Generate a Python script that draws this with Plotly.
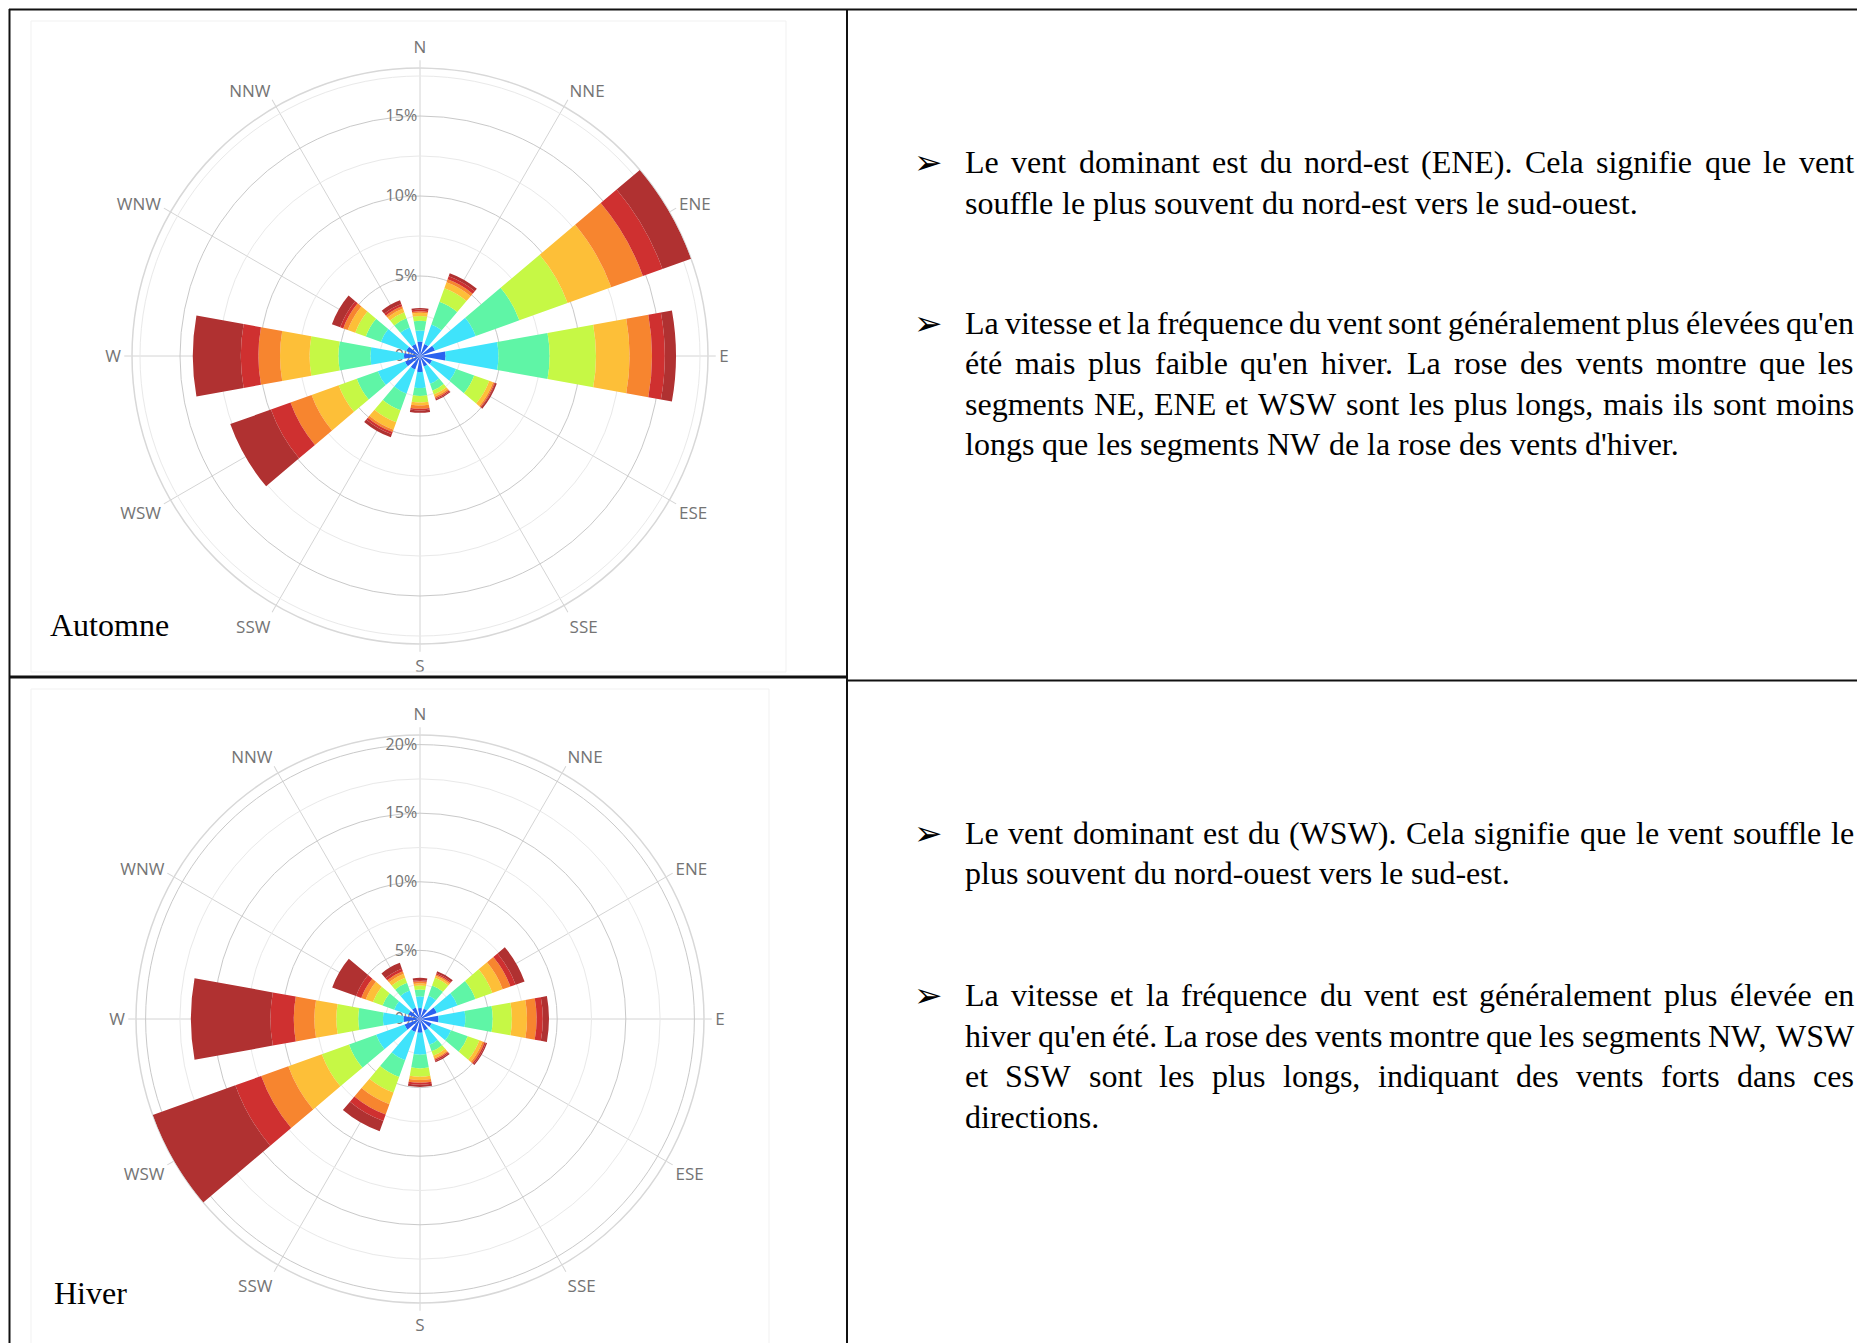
import plotly.graph_objects as go

# ---------------- data ----------------
directions = ["N", "NNE", "ENE", "E", "ESE", "SSE", "S", "SSW", "WSW", "W", "WNW", "NNW"]
angles = [0, 30, 60, 90, 120, 150, 180, 210, 240, 270, 300, 330]
radial_ticks_aut = [0, 5, 10, 15]
radial_ticks_hiv = [0, 5, 10, 15, 20]

# frequency (%) per wind-speed class (innermost class first), one value per direction
aut_c1 = [0.9, 0.8, 1.0, 1.6, 0.8, 0.7, 1.0, 0.9, 1.0, 1.0, 0.9, 0.8]
aut_c2 = [0.7, 1.3, 2.7, 3.3, 1.6, 1.15, 1.0, 1.6, 1.8, 2.1, 1.7, 1.1]
aut_c3 = [0.6, 1.5, 2.9, 3.2, 1.2, 0.45, 0.5, 1.1, 1.4, 2.0, 1.0, 0.6]
aut_c4 = [0.3, 0.9, 3.2, 2.9, 1.0, 0.25, 0.4, 0.8, 1.2, 1.8, 0.7, 0.4]
aut_c5 = [0.2, 0.4, 2.9, 2.1, 0.25, 0.15, 0.2, 0.5, 1.8, 1.85, 0.5, 0.25]
aut_c6 = [0.1, 0.2, 2.1, 1.4, 0.1, 0.1, 0.2, 0.15, 1.4, 1.35, 0.3, 0.15]
aut_c7 = [0.1, 0.2, 1.3, 0.8, 0.05, 0.08, 0.1, 0.15, 1.3, 1.1, 0.2, 0.15]
aut_c8 = [0.1, 0.2, 1.9, 0.7, 0.1, 0.07, 0.15, 0.2, 2.7, 3.0, 0.55, 0.25]

hiv_c1 = [0.8, 0.8, 1.3, 1.35, 0.9, 0.9, 1.0, 1.0, 1.2, 1.2, 0.9, 0.9]
hiv_c2 = [0.85, 1.0, 1.6, 1.95, 1.5, 1.1, 1.6, 2.2, 2.2, 1.5, 1.1, 1.3]
hiv_c3 = [0.5, 0.8, 1.4, 2.0, 1.3, 0.5, 1.0, 1.3, 2.1, 1.8, 0.9, 0.6]
hiv_c4 = [0.3, 0.6, 1.3, 1.4, 0.9, 0.35, 0.6, 1.2, 2.1, 1.6, 0.75, 0.4]
hiv_c5 = [0.15, 0.15, 0.8, 1.1, 0.25, 0.2, 0.25, 0.9, 2.6, 1.6, 0.55, 0.3]
hiv_c6 = [0.15, 0.1, 0.6, 0.7, 0.15, 0.1, 0.2, 0.8, 2.1, 1.5, 0.35, 0.2]
hiv_c7 = [0.1, 0.1, 0.4, 0.45, 0.1, 0.1, 0.15, 0.5, 2.0, 1.7, 0.4, 0.2]
hiv_c8 = [0.15, 0.15, 0.7, 0.45, 0.1, 0.1, 0.15, 0.8, 6.4, 5.8, 1.85, 0.45]

class_colors = ["#2b62ef", "#3fe3fb", "#5ff5a6", "#c6f845", "#fdbf38", "#f7852f", "#cf3030", "#b03131"]

para1 = ["Le vent dominant est du nord-est (ENE). Cela signifie que le vent",
         "souffle le plus souvent du nord-est vers le sud-ouest."]
para2 = ["La vitesse et la fréquence du vent sont généralement plus élevées qu'en",
         "été mais plus faible qu'en hiver. La rose des vents montre que les",
         "segments NE, ENE et WSW sont les plus longs, mais ils sont moins",
         "longs que les segments NW de la rose des vents d'hiver."]
para3 = ["Le vent dominant est du (WSW). Cela signifie que le vent souffle le",
         "plus souvent du nord-ouest vers le sud-est."]
para4 = ["La vitesse et la fréquence du vent est généralement plus élevée en",
         "hiver qu'en été. La rose des vents montre que les segments NW, WSW",
         "et SSW sont les plus longs, indiquant des vents forts dans ces",
         "directions."]

# ---------------- layout helpers ----------------
W, H = 1857, 1343


def px(x):
    return x / W


def py(y):
    return 1 - y / H


fig = go.Figure()

aut = [aut_c1, aut_c2, aut_c3, aut_c4, aut_c5, aut_c6, aut_c7, aut_c8]
hiv = [hiv_c1, hiv_c2, hiv_c3, hiv_c4, hiv_c5, hiv_c6, hiv_c7, hiv_c8]

# invisible anchor traces so the grid-only polar subplots get drawn
for sub in ["polar", "polar3"]:
    fig.add_trace(go.Scatterpolar(r=[0], theta=[0], subplot=sub, mode="markers",
                                  marker=dict(size=1, opacity=0), showlegend=False,
                                  hoverinfo="skip"))

for data, sub in [(aut, "polar2"), (hiv, "polar4")]:
    for vals, col in zip(data, class_colors):
        fig.add_trace(go.Barpolar(r=vals, theta=angles, width=20.5, subplot=sub,
                                  marker=dict(color=col, line=dict(width=0)),
                                  showlegend=False, hoverinfo="skip"))

aut_max = max(sum(v[i] for v in aut) for i in range(len(angles)))
hiv_max = max(sum(v[i] for v in hiv) for i in range(len(angles)))

label_font = dict(family="Open Sans", size=16, color="#747474")


def grid_polar(cx, cy, R, rmax, ticks):
    dom = dict(x=[px(cx - R), px(cx + R)], y=[py(cy + R), py(cy - R)])
    return dict(
        domain=dom, bgcolor="white",
        angularaxis=dict(rotation=90, direction="clockwise", tickmode="array",
                         tickvals=angles, ticktext=directions, showgrid=True,
                         gridcolor="#d4d4d4", gridwidth=1, ticks="outside", ticklen=7,
                         tickcolor="#d4d4d4", showline=True, linecolor="#d8d8d8",
                         linewidth=1.5, tickfont=dict(family="Open Sans", size=17, color="#747474")),
        radialaxis=dict(range=[0, rmax], tickmode="array", tickvals=ticks,
                        ticktext=[f"{t}%" for t in ticks], side="counterclockwise",
                        tickangle=90, showline=False, ticks="", gridcolor="#c9c9c9",
                        gridwidth=1.3, angle=90, tickfont=label_font),
    )


def bar_polar(cx, cy, R, rmax):
    dom = dict(x=[px(cx - R), px(cx + R)], y=[py(cy + R), py(cy - R)])
    minor = [m + 2.5 for m in range(0, int(rmax) + 1, 5) if m + 2.5 < rmax]
    return dict(
        domain=dom, bgcolor="rgba(0,0,0,0)", barmode="stack",
        angularaxis=dict(rotation=90, direction="clockwise", showgrid=False,
                         showticklabels=False, ticks="", showline=False),
        radialaxis=dict(range=[0, rmax], tickmode="array", tickvals=minor,
                        showticklabels=False, showline=False, ticks="",
                        gridcolor="#e9e9e9", gridwidth=1, angle=90),
    )


fig.update_layout(
    polar=grid_polar(420, 356, 288, aut_max, radial_ticks_aut),
    polar2=bar_polar(420, 356, 288, aut_max),
    polar3=grid_polar(420, 1019, 284, hiv_max, radial_ticks_hiv),
    polar4=bar_polar(420, 1019, 284, hiv_max),
)

# ---------------- table lines & frames ----------------
shapes = []


def line(x0, y0, x1, y1, w=2, c="#111111"):
    shapes.append(dict(type="line", xref="paper", yref="paper", x0=px(x0), y0=py(y0),
                       x1=px(x1), y1=py(y1), line=dict(color=c, width=w)))


line(9, 9.5, W, 9.5)
line(9.5, 9, 9.5, H)
line(847, 9, 847, H)
line(9, 677, 847, 677, w=3)
line(847, 680.5, W, 680.5)

for (x0, y0, x1, y1) in [(31, 21, 786, 672), (31, 689, 769, H + 5)]:
    shapes.append(dict(type="rect", xref="paper", yref="paper", x0=px(x0), y0=py(y0),
                       x1=px(x1), y1=py(y1), line=dict(color="#f1f1f1", width=1)))

annotations = []
serif = "Liberation Serif"
annotations.append(dict(text="Automne", x=px(48), y=py(625), xref="paper", yref="paper",
                        xanchor="left", yanchor="middle", showarrow=False,
                        font=dict(family=serif, size=32, color="black")))
annotations.append(dict(text="Hiver", x=px(52), y=py(1293), xref="paper", yref="paper",
                        xanchor="left", yanchor="middle", showarrow=False,
                        font=dict(family=serif, size=32, color="black")))

# Times metrics (per 1000 em) for justified placement
TW = {' ': 250, '(': 333, ')': 333, ',': 250, '-': 333, '.': 250, "'": 180,
      'A': 722, 'B': 667, 'C': 667, 'D': 722, 'E': 611, 'F': 556, 'G': 722, 'H': 722,
      'I': 333, 'J': 389, 'K': 722, 'L': 611, 'M': 889, 'N': 722, 'O': 722, 'P': 556,
      'Q': 722, 'R': 667, 'S': 556, 'T': 611, 'U': 722, 'V': 722, 'W': 944, 'X': 722,
      'Y': 722, 'Z': 611,
      'a': 444, 'b': 500, 'c': 444, 'd': 500, 'e': 444, 'f': 333, 'g': 500, 'h': 500,
      'i': 278, 'j': 278, 'k': 500, 'l': 278, 'm': 778, 'n': 500, 'o': 500, 'p': 500,
      'q': 500, 'r': 333, 's': 389, 't': 278, 'u': 500, 'v': 500, 'w': 722, 'x': 500,
      'y': 500, 'z': 444, 'é': 444, 'è': 444}
FS = 32
X0, X1 = 964, 1853
LH = 40.5


def wwidth(s):
    return sum(TW.get(ch, 500) for ch in s) * FS / 1000.0


def add_para(lines, ytop):
    annotations.append(dict(text="➢", x=px(928), y=py(ytop), xref="paper", yref="paper",
                            xanchor="center", yanchor="middle", showarrow=False,
                            font=dict(family="DejaVu Sans", size=34, color="black")))
    for li, ln in enumerate(lines):
        yy = ytop + li * LH
        words = ln.split(" ")
        widths = [wwidth(w) for w in words]
        last = li == len(lines) - 1
        if last or len(words) == 1:
            gap = TW[' '] * FS / 1000.0
        else:
            gap = (X1 - X0 - sum(widths)) / (len(words) - 1)
        x = X0
        for w, wd in zip(words, widths):
            annotations.append(dict(text=w, x=px(x), y=py(yy), xref="paper", yref="paper",
                                    xanchor="left", yanchor="middle", showarrow=False,
                                    borderpad=0,
                                    font=dict(family=serif, size=FS, color="black")))
            x += wd + gap


add_para(para1, 162)
add_para(para2, 322.5)
add_para(para3, 832.5)
add_para(para4, 995)

fig.update_layout(width=W, height=H, margin=dict(l=0, r=0, t=0, b=0),
                  paper_bgcolor="white", plot_bgcolor="white",
                  shapes=shapes, annotations=annotations, showlegend=False)

fig.write_html("out.html", config={"displayModeBar": False},
               post_script="document.body.style.margin='0px';document.body.style.overflow='hidden';")
